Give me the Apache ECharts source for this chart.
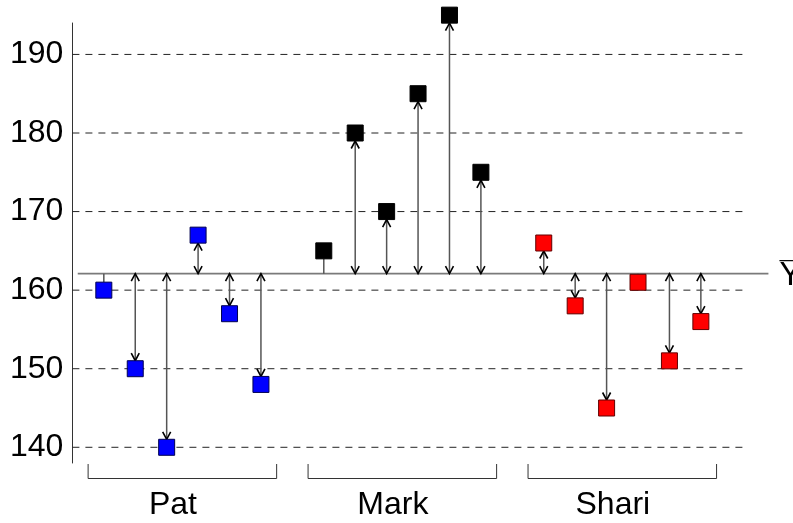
<!DOCTYPE html>
<html>
<head>
<meta charset="utf-8">
<script src="https://cdn.jsdelivr.net/npm/echarts@6/dist/echarts.min.js"></script>
<style>
html,body{margin:0;padding:0;background:#fff;}
#chart{width:793px;height:523px;}
</style>
</head>
<body>
<div id="chart"></div>
<script>
// ---- data ----
const groupNames = ['Pat', 'Mark', 'Shari'];
const patX = [1, 2, 3, 4, 5, 6];
const markX = [8, 9, 10, 11, 12, 13];
const shariX = [15, 16, 17, 18, 19, 20];
const patValues = [160, 150, 140, 167, 157, 148];
const markValues = [165, 180, 170, 185, 195, 175];
const shariValues = [166, 158, 145, 161, 151, 156];
const grandMean = 162.1;
const yTickValues = [140, 150, 160, 170, 180, 190];
const meanLabel = 'Y';

const FONT = '"Liberation Sans", Arial, sans-serif';
const xMin = 0, xMax = 21.5, yMin = 138, yMax = 194;

function pairs(xs, ys) { return xs.map((x, i) => [x, ys[i]]); }
const allX = [patX, markX, shariX];
const allV = [patValues, markValues, shariValues];
const colors = ['#0000ff', '#000000', '#ff0000'];
const borders = ['#000050', '#000000', '#600000'];

const HALF = 8;     // half of square size in px
const AH_L = 7.5, AH_W = 4;

function arrowRender(params, api) {
  const x = api.value(0), v = api.value(1);
  const p0 = api.coord([x, grandMean]);
  const p1 = api.coord([x, v]);
  const dir = p1[1] > p0[1] ? 1 : -1;
  const endY = p1[1] - dir * HALF;
  const len = (endY - p0[1]) * dir;
  const children = [];
  if (len <= 0.5) return { type: 'group', children: [] };
  children.push({
    type: 'line',
    shape: { x1: p0[0], y1: p0[1], x2: p0[0], y2: endY },
    style: { stroke: '#555', lineWidth: 1.5 }
  });
  if (len > 16) {
    children.push({
      type: 'polyline',
      shape: { points: [[p0[0] - AH_W, endY - dir * AH_L], [p0[0], endY], [p0[0] + AH_W, endY - dir * AH_L]] },
      style: { stroke: '#000', lineWidth: 1.6, fill: null }
    });
    children.push({
      type: 'polyline',
      shape: { points: [[p0[0] - AH_W, p0[1] + dir * AH_L], [p0[0], p0[1]], [p0[0] + AH_W, p0[1] + dir * AH_L]] },
      style: { stroke: '#000', lineWidth: 1.6, fill: null }
    });
  }
  return { type: 'group', children: children };
}

const series = [];

// dashed grid lines
series.push({
  type: 'custom',
  data: yTickValues.map(v => [v]),
  silent: true,
  z: 1,
  renderItem: function (params, api) {
    const v = api.value(0);
    const a = api.coord([xMin, v]);
    const b = api.coord([xMax, v]);
    return {
      type: 'line',
      shape: { x1: a[0], y1: a[1], x2: b[0], y2: b[1] },
      style: { stroke: '#222', lineWidth: 1, lineDash: [7, 6] }
    };
  }
});

// grand mean line + label
series.push({
  type: 'custom',
  data: [[grandMean]],
  silent: true,
  clip: false,
  z: 2,
  renderItem: function (params, api) {
    const m = api.value(0);
    const a = api.coord([0.17, m]);
    const b = api.coord([22.15, m]);
    const lx = b[0] + 11;
    return {
      type: 'group',
      children: [
        { type: 'line', shape: { x1: a[0], y1: a[1], x2: b[0], y2: b[1] },
          style: { stroke: '#7a7a7a', lineWidth: 1.8 } },
        { type: 'text', x: lx, y: a[1] + 2,
          style: { text: meanLabel, fill: '#000', font: '33px ' + FONT, textAlign: 'left', textVerticalAlign: 'middle' } },
        { type: 'line', shape: { x1: lx, y1: a[1] - 13, x2: lx + 30, y2: a[1] - 13 },
          style: { stroke: '#000', lineWidth: 1.2 } }
      ]
    };
  }
});

// arrows
for (let g = 0; g < 3; g++) {
  series.push({
    type: 'custom',
    data: pairs(allX[g], allV[g]),
    clip: false,
    silent: true,
    z: 3,
    renderItem: arrowRender
  });
}

// squares
for (let g = 0; g < 3; g++) {
  series.push({
    type: 'scatter',
    name: groupNames[g],
    data: pairs(allX[g], allV[g]),
    symbol: 'rect',
    symbolSize: 16,
    clip: false,
    z: 5,
    itemStyle: { color: colors[g], borderColor: borders[g], borderWidth: 1, opacity: 1 }
  });
}

// brackets + group labels
series.push({
  type: 'custom',
  data: groupNames.map((n, g) => [Math.min(...allX[g]) - 0.5, Math.max(...allX[g]) + 0.5, g]),
  clip: false,
  silent: true,
  z: 4,
  renderItem: function (params, api) {
    const s = api.value(0), e = api.value(1), g = api.value(2);
    const a = api.coord([s, yMin]);
    const b = api.coord([e, yMin]);
    const top = a[1] + 1, bot = a[1] + 15.5;
    const cx = api.coord([(s + e) / 2 - 0.3, yMin])[0];
    return {
      type: 'group',
      children: [
        { type: 'polyline', shape: { points: [[a[0], top], [a[0], bot], [b[0], bot], [b[0], top]] },
          style: { stroke: '#333', lineWidth: 1, fill: null } },
        { type: 'text', x: cx, y: a[1] + 42,
          style: { text: groupNames[g], fill: '#000', font: '32px ' + FONT, textAlign: 'center', textVerticalAlign: 'middle' } }
      ]
    };
  }
});

const chart = echarts.init(document.getElementById('chart'), null, { renderer: 'canvas' });
chart.setOption({
  animation: false,
  backgroundColor: '#fff',
  grid: { left: 72.4, right: 45, top: 23, bottom: 60, containLabel: false },
  xAxis: { type: 'value', min: xMin, max: xMax, show: false },
  yAxis: {
    type: 'value', min: yMin, max: yMax,
    axisLine: { show: true, lineStyle: { color: '#333', width: 1 } },
    axisTick: { show: false },
    splitLine: { show: false },
    axisLabel: { customValues: yTickValues, fontSize: 32, color: '#000', margin: 9, fontFamily: FONT }
  },
  series: series
});
</script>
</body>
</html>
